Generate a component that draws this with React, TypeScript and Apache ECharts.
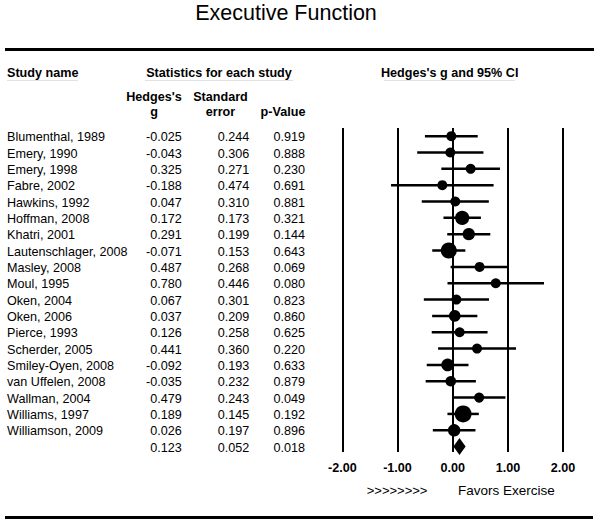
import React, { useEffect, useRef } from "react";
import * as echarts from "echarts";

const studies = [
  "Blumenthal, 1989", "Emery, 1990", "Emery, 1998", "Fabre, 2002", "Hawkins, 1992",
  "Hoffman, 2008", "Khatri, 2001", "Lautenschlager, 2008", "Masley, 2008", "Moul, 1995",
  "Oken, 2004", "Oken, 2006", "Pierce, 1993", "Scherder, 2005", "Smiley-Oyen, 2008",
  "van Uffelen, 2008", "Wallman, 2004", "Williams, 1997", "Williamson, 2009",
];
const hedgesG = [
  -0.025, -0.043, 0.325, -0.188, 0.047, 0.172, 0.291, -0.071, 0.487, 0.78,
  0.067, 0.037, 0.126, 0.441, -0.092, -0.035, 0.479, 0.189, 0.026,
];
const stdErr = [
  0.244, 0.306, 0.271, 0.474, 0.31, 0.173, 0.199, 0.153, 0.268, 0.446,
  0.301, 0.209, 0.258, 0.36, 0.193, 0.232, 0.243, 0.145, 0.197,
];
const pValue = [
  0.919, 0.888, 0.23, 0.691, 0.881, 0.321, 0.144, 0.643, 0.069, 0.08,
  0.823, 0.86, 0.625, 0.22, 0.633, 0.879, 0.049, 0.192, 0.896,
];
const summaryG = 0.123;
const summarySE = 0.052;
const summaryP = 0.018;
const xTicks = [-2, -1, 0, 1, 2];

const FONT = "'Liberation Sans', Arial, Helvetica, sans-serif";
const FS = 12.6;

export default function App() {
  const ref = useRef<HTMLDivElement>(null);
  useEffect(() => {
    document.body.style.margin = "0";
    if (!ref.current) return;
    const chart = echarts.init(ref.current, undefined, { renderer: "svg" });

    const forestData = hedgesG.map((g, i) => [
      g, g - 1.96 * stdErr[i], g + 1.96 * stdErr[i], i, stdErr[i], 0,
    ]);
    forestData.push([
      summaryG, summaryG - 1.96 * summarySE, summaryG + 1.96 * summarySE,
      studies.length, summarySE, 1,
    ]);

    const tableData = studies.map((s, i) => [
      i, s, hedgesG[i].toFixed(3), stdErr[i].toFixed(3), pValue[i].toFixed(3),
    ]);
    tableData.push([studies.length, "", summaryG.toFixed(3), summarySE.toFixed(3), summaryP.toFixed(3)]);

    const txt = (x: number, y: number, text: string, align: string, bold = false, size = FS) => ({
      type: "text",
      x,
      y,
      style: {
        text,
        fill: "#000",
        font: `${bold ? "bold " : ""}${size}px ${FONT}`,
        textAlign: align,
        textVerticalAlign: "middle",
      },
    });
    const hline = (x1: number, x2: number, y: number, w: number, color = "#000") => ({
      type: "line",
      shape: { x1, y1: y, x2, y2: y },
      style: { stroke: color, lineWidth: w },
    });

    chart.setOption({
      animation: false,
      grid: { left: 342.3, width: 220.8, top: 128, height: 324 },
      xAxis: {
        type: "value",
        min: -2,
        max: 2,
        interval: 1,
        axisLine: { show: false },
        axisTick: { show: false },
        splitLine: { show: true, lineStyle: { color: "#000", width: 2 } },
        axisLabel: {
          margin: 9,
          color: "#000",
          fontWeight: "bold",
          fontSize: FS,
          fontFamily: FONT,
          formatter: (v: number) => (xTicks.includes(v) ? v.toFixed(2) : ""),
        },
      },
      yAxis: {
        type: "value",
        inverse: true,
        min: -0.5,
        max: 19.33,
        show: false,
      },
      graphic: [
        txt(286, 12.5, "Executive Function", "center", false, 21.5),
        hline(5, 594, 49.5, 3),
        txt(7, 73, "Study name", "left", true),
        txt(219, 73, "Statistics for each study", "center", true),
        txt(449.7, 73, "Hedges's g and 95% CI", "center", true),
        hline(7, 78, 80.5, 1, "#e2e2e2"),
        hline(145, 293, 80.5, 1, "#e2e2e2"),
        hline(384, 515, 80.5, 1, "#e2e2e2"),
        txt(154, 96.7, "Hedges's", "center", true),
        txt(154, 111.7, "g", "center", true),
        txt(220.5, 96.7, "Standard", "center", true),
        txt(220.5, 111.7, "error", "center", true),
        txt(283, 111.7, "p-Value", "center", true),
        txt(366.7, 490, ">>>>>>>>", "left", false, 13),
        txt(458, 490, "Favors Exercise", "left", false, 13.5),
        hline(5, 593, 517.5, 3),
      ],
      series: [
        {
          type: "custom",
          clip: false,
          data: forestData,
          renderItem: (params: any, api: any) => {
            const g = api.value(0);
            const lo = api.value(1);
            const hi = api.value(2);
            const row = api.value(3);
            const se = api.value(4);
            const isSummary = api.value(5) === 1;
            const c = api.coord([g, row]);
            const l = api.coord([lo, row]);
            const h = api.coord([hi, row]);
            if (isSummary) {
              return {
                type: "polygon",
                shape: {
                  points: [
                    [l[0] - 0.5, c[1]],
                    [c[0], c[1] - 8.5],
                    [h[0] + 0.5, c[1]],
                    [c[0], c[1] + 8.5],
                  ],
                },
                style: { fill: "#000" },
              };
            }
            const size = Math.max(10, 2.45 / se);
            return {
              type: "group",
              children: [
                {
                  type: "line",
                  shape: { x1: l[0], y1: c[1], x2: h[0], y2: c[1] },
                  style: { stroke: "#000", lineWidth: 2.5 },
                },
                {
                  type: "circle",
                  shape: { cx: c[0], cy: c[1], r: size / 2 },
                  style: { fill: "#000" },
                },
              ],
            };
          },
        },
        {
          type: "custom",
          clip: false,
          data: tableData,
          renderItem: (params: any, api: any) => {
            const row = api.value(0);
            const y = api.coord([0, row])[1] + 1;
            const d = tableData[params.dataIndex];
            return {
              type: "group",
              children: [
                txt(7, y, String(d[1]), "left"),
                txt(181.7, y, String(d[2]), "right"),
                txt(249.3, y, String(d[3]), "right"),
                txt(305, y, String(d[4]), "right"),
              ],
            };
          },
        },
      ],
    });
    return () => chart.dispose();
  }, []);
  return <div ref={ref} style={{ width: 600, height: 523 }} />;
}
